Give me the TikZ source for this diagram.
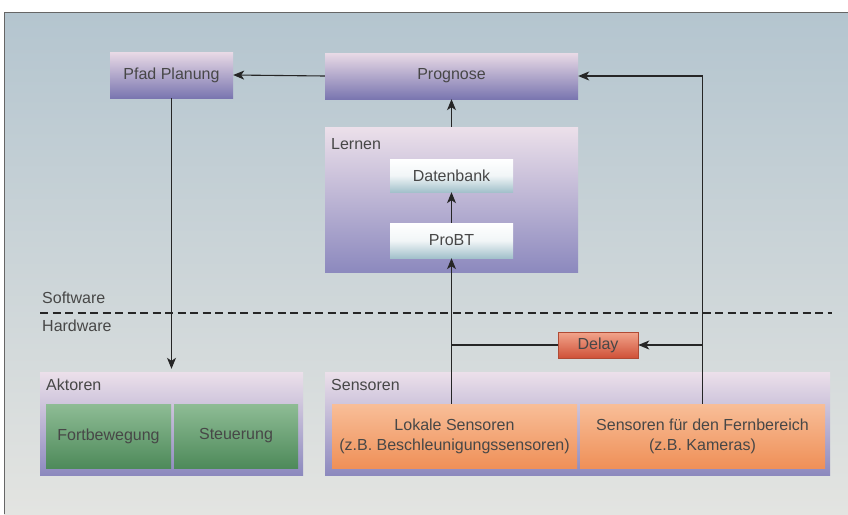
\documentclass[tikz,border=0pt]{standalone}
\usepackage{fontspec}
\setmainfont{Liberation Sans}
\usetikzlibrary{arrows.meta,shadings}
\definecolor{txt}{HTML}{474747}
\definecolor{lnk}{HTML}{262626}
\definecolor{bgtop}{HTML}{B4C5CF}
\definecolor{bgbot}{HTML}{E3E4E1}
\definecolor{purtop}{HTML}{E9DAE6}
\definecolor{purbot}{HTML}{7A76B0}
\definecolor{grptop}{HTML}{ECE0EA}
\definecolor{grpbot}{HTML}{8C89BE}
\definecolor{dbbot}{HTML}{A3C1CB}
\definecolor{deltop}{HTML}{F2A58C}
\definecolor{delbot}{HTML}{CF5138}
\definecolor{deldraw}{HTML}{B04A34}
\definecolor{grtop}{HTML}{8EBC95}
\definecolor{grbot}{HTML}{4E8A5A}
\definecolor{ortop}{HTML}{F8BE98}
\definecolor{orbot}{HTML}{EF9058}
\tikzset{
  base/.style={inner sep=0pt, text=txt, font=\fontsize{16}{20}\selectfont, align=center},
  purbox/.style={base, top color=purtop, bottom color=purbot},
  grpbox/.style={base, top color=grptop, bottom color=grpbot},
  dbbox/.style={base, top color=white, bottom color=dbbot, middle color=white!85!dbbot},
  delbox/.style={base, top color=deltop, bottom color=delbot, draw=deldraw, line width=0.5pt},
  grbox/.style={base, top color=grtop, bottom color=grbot},
  orbox/.style={base, top color=ortop, bottom color=orbot},
  lbl/.style={base, anchor=west},
  arr/.style={draw=lnk, line width=1.1pt, -{Stealth[length=11pt,width=9pt,inset=3pt]}},
  ln/.style={draw=lnk, line width=1.1pt},
}
\begin{document}
\begin{tikzpicture}[x=1pt,y=-1pt]
\useasboundingbox (0,0) rectangle (848,514);
\fill[white] (0,0) rectangle (848,514);
\shade[top color=bgtop, bottom color=bgbot] (4,12) rectangle (848,514);
\draw[gray!80!black, line width=0.8pt] (4,514) -- (4,12) -- (848,12);

% top row
\node[purbox, minimum width=123pt, minimum height=46pt] (pfad) at (171.5,75) {Pfad Planung};
\node[purbox, minimum width=253pt, minimum height=46pt] (prog) at (451.5,76) {Prognose};

% Lernen group
\node[grpbox, minimum width=253pt, minimum height=145pt] (lernen) at (451.5,199.5) {};
\node[lbl] (lernenlbl) at (331,144) {Lernen};
\node[dbbox, minimum width=123pt, minimum height=33pt] (db) at (451.5,175.5) {Datenbank};
\node[dbbox, minimum width=123pt, minimum height=35pt] (probt) at (451.5,240.5) {ProBT};

% Software / Hardware
\node[lbl] (sw) at (42,298) {Software};
\node[lbl] (hw) at (42,326) {Hardware};
\coordinate (dl) at (40,313);
\coordinate (dr) at (832,313);
\draw[ln, line width=1.2pt, dash pattern=on 8pt off 4.5pt] (dl) -- (dr);

% Delay
\node[delbox, minimum width=80pt, minimum height=26pt] (delay) at (598,345) {Delay};

% Aktoren group
\node[grpbox, minimum width=263pt, minimum height=103pt] (akt) at (171.5,423.5) {};
\node[lbl] (aktlbl) at (46,385) {Aktoren};
\node[grbox, minimum width=125pt, minimum height=64pt] (fort) at (108.5,436) {Fortbewegung};
\node[grbox, minimum width=124pt, minimum height=64pt] (steu) at (236,436) {Steuerung};

% Sensoren group
\node[grpbox, minimum width=505pt, minimum height=103pt] (sens) at (577.5,423.5) {};
\node[lbl] (senslbl) at (331,385) {Sensoren};
\node[orbox, minimum width=245pt, minimum height=64pt] (lokal) at (454.5,436) {Lokale Sensoren\\(z.B. Beschleunigungssensoren)};
\node[orbox, minimum width=245pt, minimum height=64pt] (fern) at (702.5,436) {Sensoren für den Fernbereich\\(z.B. Kameras)};

% connectors
\draw[arr] (prog.west) -- (pfad.east);
\draw[arr] (lernen.north) -- (prog.south);
\draw[arr] (probt.north) -- (db.south);
\draw[arr] (probt.south |- lokal.north) -- (probt.south);
\draw[arr] (fern.north) |- (prog.east);
\draw[arr] (fern.north |- delay.east) -- (delay.east);
\draw[ln] (delay.west) -- (probt.south |- delay.west);
\draw[arr] (pfad.south) -- ([yshift=3pt]pfad.south |- akt.north);
\end{tikzpicture}
\end{document}
